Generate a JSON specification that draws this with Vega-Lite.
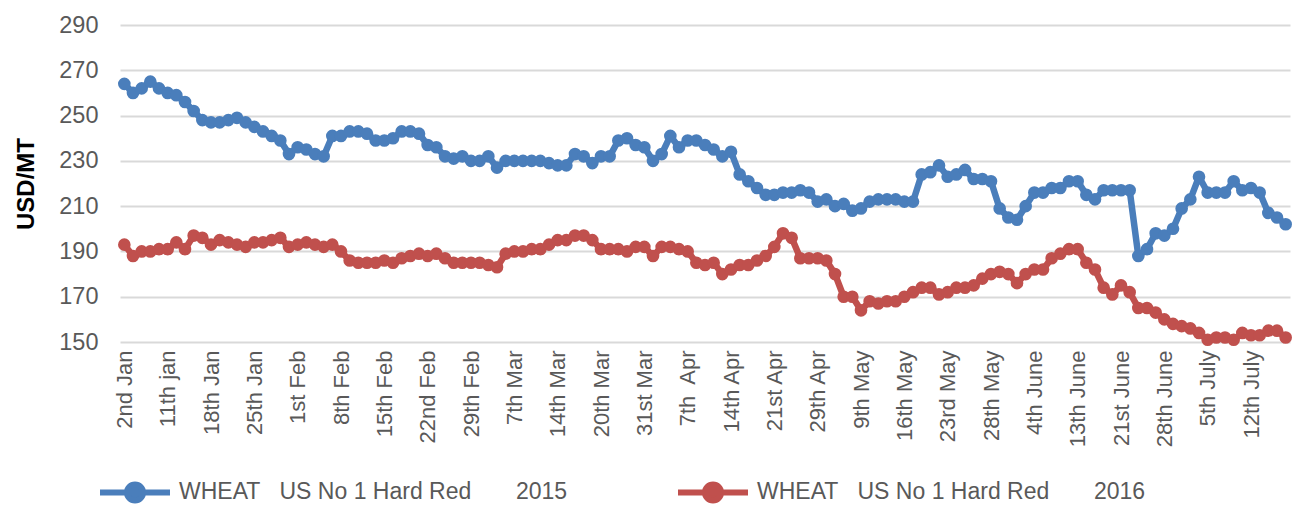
{
  "$schema": "https://vega.github.io/schema/vega-lite/v6.json",
  "width": 1170,
  "height": 317,
  "autosize": {"type": "none"},
  "padding": {"left": 120, "top": 25, "right": 7, "bottom": 163},
  "background": "white",
  "config": {"view": {"stroke": null}, "font": "Liberation Sans"},
  "data": {"values": [
    {"i":0,"a":264,"b":193},{"i":1,"a":260,"b":188},{"i":2,"a":262,"b":190},{"i":3,"a":265,"b":190},{"i":4,"a":262,"b":191},
    {"i":5,"a":260,"b":191},{"i":6,"a":259,"b":194},{"i":7,"a":256,"b":191},{"i":8,"a":252,"b":197},{"i":9,"a":248,"b":196},
    {"i":10,"a":247,"b":193},{"i":11,"a":247,"b":195},{"i":12,"a":248,"b":194},{"i":13,"a":249,"b":193},{"i":14,"a":247,"b":192},
    {"i":15,"a":245,"b":194},{"i":16,"a":243,"b":194},{"i":17,"a":241,"b":195},{"i":18,"a":239,"b":196},{"i":19,"a":233,"b":192},
    {"i":20,"a":236,"b":193},{"i":21,"a":235,"b":194},{"i":22,"a":233,"b":193},{"i":23,"a":232,"b":192},{"i":24,"a":241,"b":193},
    {"i":25,"a":241,"b":190},{"i":26,"a":243,"b":186},{"i":27,"a":243,"b":185},{"i":28,"a":242,"b":185},{"i":29,"a":239,"b":185},
    {"i":30,"a":239,"b":186},{"i":31,"a":240,"b":185},{"i":32,"a":243,"b":187},{"i":33,"a":243,"b":188},{"i":34,"a":242,"b":189},
    {"i":35,"a":237,"b":188},{"i":36,"a":236,"b":189},{"i":37,"a":232,"b":187},{"i":38,"a":231,"b":185},{"i":39,"a":232,"b":185},
    {"i":40,"a":230,"b":185},{"i":41,"a":230,"b":185},{"i":42,"a":232,"b":184},{"i":43,"a":227,"b":183},{"i":44,"a":230,"b":189},
    {"i":45,"a":230,"b":190},{"i":46,"a":230,"b":190},{"i":47,"a":230,"b":191},{"i":48,"a":230,"b":191},{"i":49,"a":229,"b":193},
    {"i":50,"a":228,"b":195},{"i":51,"a":228,"b":195},{"i":52,"a":233,"b":197},{"i":53,"a":232,"b":197},{"i":54,"a":229,"b":195},
    {"i":55,"a":232,"b":191},{"i":56,"a":232,"b":191},{"i":57,"a":239,"b":191},{"i":58,"a":240,"b":190},{"i":59,"a":237,"b":192},
    {"i":60,"a":236,"b":192},{"i":61,"a":230,"b":188},{"i":62,"a":233,"b":192},{"i":63,"a":241,"b":192},{"i":64,"a":236,"b":191},
    {"i":65,"a":239,"b":190},{"i":66,"a":239,"b":185},{"i":67,"a":237,"b":184},{"i":68,"a":235,"b":185},{"i":69,"a":232,"b":180},
    {"i":70,"a":234,"b":182},{"i":71,"a":224,"b":184},{"i":72,"a":221,"b":184},{"i":73,"a":218,"b":186},{"i":74,"a":215,"b":188},
    {"i":75,"a":215,"b":192},{"i":76,"a":216,"b":198},{"i":77,"a":216,"b":196},{"i":78,"a":217,"b":187},{"i":79,"a":216,"b":187},
    {"i":80,"a":212,"b":187},{"i":81,"a":213,"b":186},{"i":82,"a":210,"b":180},{"i":83,"a":211,"b":170},{"i":84,"a":208,"b":170},
    {"i":85,"a":209,"b":164},{"i":86,"a":212,"b":168},{"i":87,"a":213,"b":167},{"i":88,"a":213,"b":168},{"i":89,"a":213,"b":168},
    {"i":90,"a":212,"b":170},{"i":91,"a":212,"b":172},{"i":92,"a":224,"b":174},{"i":93,"a":225,"b":174},{"i":94,"a":228,"b":171},
    {"i":95,"a":223,"b":172},{"i":96,"a":224,"b":174},{"i":97,"a":226,"b":174},{"i":98,"a":222,"b":175},{"i":99,"a":222,"b":178},
    {"i":100,"a":221,"b":180},{"i":101,"a":209,"b":181},{"i":102,"a":205,"b":180},{"i":103,"a":204,"b":176},{"i":104,"a":210,"b":180},
    {"i":105,"a":216,"b":182},{"i":106,"a":216,"b":182},{"i":107,"a":218,"b":187},{"i":108,"a":218,"b":189},{"i":109,"a":221,"b":191},
    {"i":110,"a":221,"b":191},{"i":111,"a":215,"b":185},{"i":112,"a":213,"b":182},{"i":113,"a":217,"b":174},{"i":114,"a":217,"b":171},
    {"i":115,"a":217,"b":175},{"i":116,"a":217,"b":172},{"i":117,"a":188,"b":165},{"i":118,"a":191,"b":165},{"i":119,"a":198,"b":163},
    {"i":120,"a":197,"b":160},{"i":121,"a":200,"b":158},{"i":122,"a":209,"b":157},{"i":123,"a":213,"b":156},{"i":124,"a":223,"b":154},
    {"i":125,"a":216,"b":151},{"i":126,"a":216,"b":152},{"i":127,"a":216,"b":152},{"i":128,"a":221,"b":151},{"i":129,"a":217,"b":154},
    {"i":130,"a":218,"b":153},{"i":131,"a":216,"b":153},{"i":132,"a":207,"b":155},{"i":133,"a":205,"b":155},{"i":134,"a":202,"b":152}
  ]},
  "transform": [{"fold": ["a", "b"], "as": ["s", "v"]}],
  "mark": {"type": "line", "strokeWidth": 6.5, "strokeJoin": "round", "strokeCap": "round", "point": {"filled": true, "size": 160, "opacity": 1}},
  "encoding": {
    "x": {
      "field": "i", "type": "ordinal", "sort": null,
      "scale": {"type": "point", "padding": 0.5},
      "axis": {
        "values": [0,5,10,15,20,25,30,35,40,45,50,55,60,65,70,75,80,85,90,95,100,105,110,115,120,125,130],
        "labelExpr": "['2nd Jan','11th jan','18th Jan','25th Jan','1st Feb','8th Feb','15th Feb','22nd Feb','29th Feb','7th Mar','14th Mar','20th Mar','31st Mar','7th\u00a0 Apr','14th Apr','21st Apr','29th Apr','9th May','16th May','23rd May','28th May','4th June','13th June','21st June','28th June','5th July','12th July'][datum.value/5]",
        "labelAngle": -90, "labelFontSize": 22, "labelColor": "#595959", "labelPadding": 8,
        "title": null, "grid": false, "domain": false, "ticks": false
      }
    },
    "y": {
      "field": "v", "type": "quantitative",
      "scale": {"domain": [150, 290], "nice": false, "zero": false},
      "axis": {
        "values": [150,170,190,210,230,250,270,290],
        "title": "USD/MT", "titleFontSize": 24, "titleFontWeight": "bold", "titleColor": "#000000", "titlePadding": 20,
        "labelFontSize": 23.5, "labelColor": "#595959", "labelPadding": 22,
        "domain": false, "ticks": false, "gridColor": "#D9D9D9", "gridWidth": 2
      }
    },
    "color": {
      "field": "s", "type": "nominal",
      "scale": {"domain": ["a", "b"], "range": ["#4A7EBB", "#C0504D"]},
      "legend": {
        "title": null, "orient": "none", "legendX": -23, "legendY": 429, "direction": "horizontal", "padding": 0,
        "labelExpr": "datum.value == 'a' ? 'WHEAT\u00a0\u00a0\u00a0US No 1 Hard Red\u00a0\u00a0\u00a0\u00a0\u00a0\u00a0\u00a02015' : 'WHEAT\u00a0\u00a0\u00a0US No 1 Hard Red\u00a0\u00a0\u00a0\u00a0\u00a0\u00a0\u00a02016'",
        "labelFontSize": 23, "labelColor": "#595959", "labelLimit": 800, "labelOffset": 6,
        "symbolType": "M -1 0 L 1 0 M -0.23 0 A 0.23 0.23 0 1 0 0.23 0 A 0.23 0.23 0 1 0 -0.23 0 Z",
        "symbolSize": 4900, "symbolStrokeWidth": 6, "columnPadding": 98,
        "encode": {"symbols": {"update": {"fill": {"scale": "color", "field": "value"}, "stroke": {"scale": "color", "field": "value"}, "opacity": {"value": 1}}}}
      }
    }
  }
}
